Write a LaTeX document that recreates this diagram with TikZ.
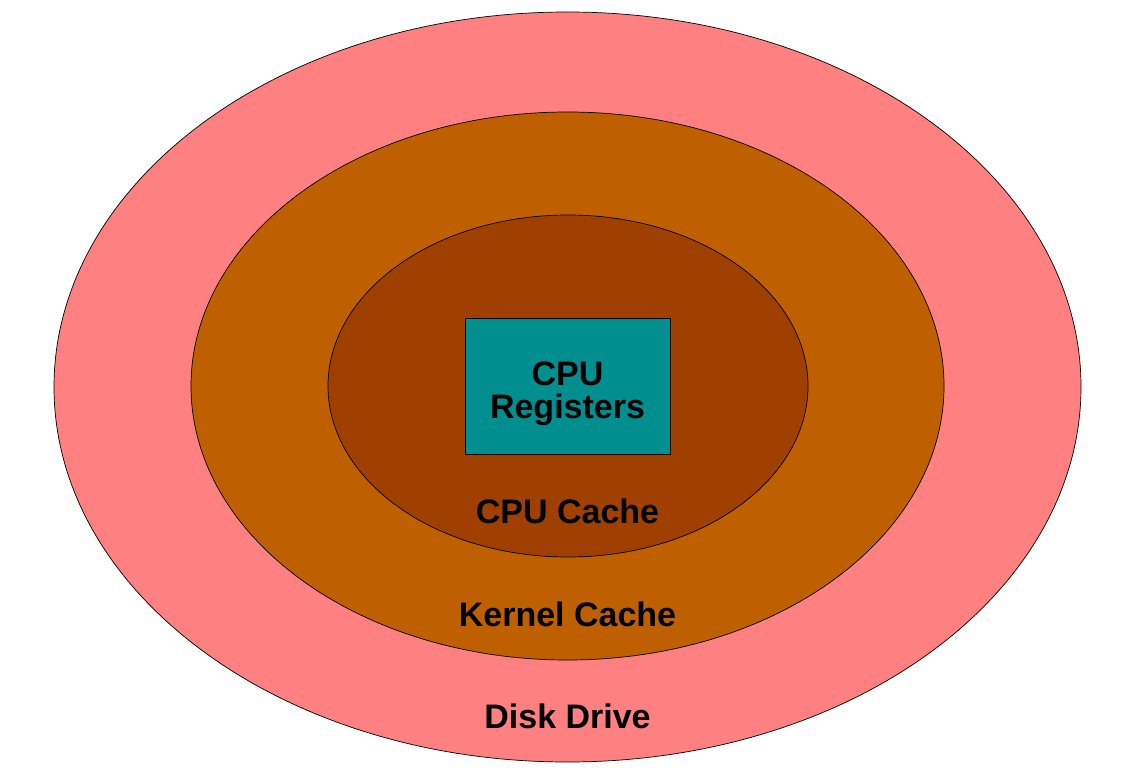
\documentclass[tikz,border=0pt]{standalone}
\usepackage{fontspec}
\setmainfont{Liberation Sans}
\definecolor{diskc}{RGB}{255,128,128}
\definecolor{kernc}{RGB}{191,96,0}
\definecolor{cpuc}{RGB}{160,64,0}
\definecolor{regc}{RGB}{0,142,142}
\tikzset{
  ring/.style={ellipse, draw=black, line width=0.7pt, inner sep=0pt},
  lbl/.style={font=\fontsize{34}{33}\selectfont\bfseries, text=black, align=center},
}
\usetikzlibrary{shapes.geometric}
\begin{document}
\begin{tikzpicture}[x=1pt,y=-1pt]
\useasboundingbox (0,0) rectangle (1145,775);
\node[ring, fill=diskc, minimum width=1027pt, minimum height=750pt] (disk) at (567.5,387) {};
\node[ring, fill=kernc, minimum width=753pt, minimum height=548pt] (kern) at (567.5,386) {};
\node[ring, fill=cpuc, minimum width=480pt, minimum height=342pt] (cache) at (568,386) {};
\node[draw=black, line width=0.7pt, fill=regc, minimum width=205pt, minimum height=136pt, inner sep=0pt] (reg) at (567.5,386) {};
\node[lbl] (regt) at (567.5,393.5) {CPU\\Registers};
\node[lbl] (cachet) at (567.5,511) {CPU Cache};
\node[lbl] (kernt) at (567.5,614) {Kernel Cache};
\node[lbl] (diskt) at (567.5,716) {Disk Drive};
\end{tikzpicture}
\end{document}
